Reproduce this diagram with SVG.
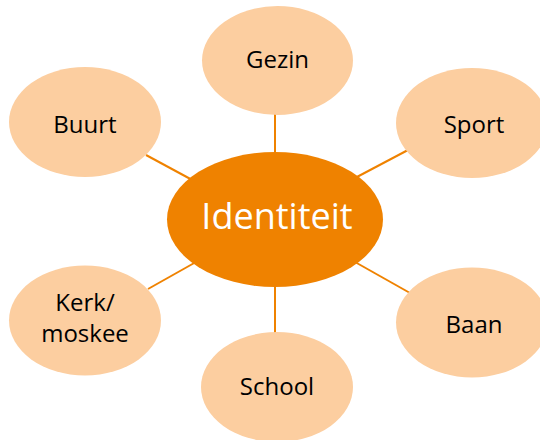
<svg xmlns="http://www.w3.org/2000/svg" width="540" height="440" viewBox="0 0 540 440">
<style>
.sat{fill:#fccea0}
.lbl{font-family:"Open Sans","Noto Sans",sans-serif;font-size:24px;fill:#000;text-anchor:middle}
.ctr{font-family:"Open Sans","Noto Sans",sans-serif;font-size:36px;fill:#fff;text-anchor:middle}
.con{stroke:#ef8200;stroke-width:2;fill:none}
</style>
<rect width="540" height="440" fill="#fff"/>
<g id="connectors">
<line class="con" x1="275" y1="112" x2="275" y2="155"/>
<line class="con" x1="146" y1="155" x2="196" y2="182"/>
<line class="con" x1="408" y1="150" x2="355" y2="178"/>
<line class="con" x1="148" y1="289" x2="196" y2="262"/>
<line class="con" x1="355" y1="262" x2="410" y2="293"/>
<line class="con" x1="275" y1="284" x2="275" y2="335"/>
</g>
<g id="gezin"><ellipse class="sat" cx="277.5" cy="60.5" rx="75.5" ry="54.5"/><text class="lbl" x="277.5" y="68">Gezin</text></g>
<g id="buurt"><ellipse class="sat" cx="85" cy="122" rx="76" ry="55"/><text class="lbl" x="85" y="133">Buurt</text></g>
<g id="sport"><ellipse class="sat" cx="472" cy="123" rx="76" ry="55"/><text class="lbl" x="474" y="133">Sport</text></g>
<g id="kerk"><ellipse class="sat" cx="85" cy="320.5" rx="76" ry="55"/><text class="lbl" x="85" y="311">Kerk/</text><text class="lbl" x="85" y="342">moskee</text></g>
<g id="baan"><ellipse class="sat" cx="472" cy="322.5" rx="76" ry="55"/><text class="lbl" x="474" y="333">Baan</text></g>
<g id="school"><ellipse class="sat" cx="277" cy="387" rx="76" ry="55"/><text class="lbl" x="277" y="395">School</text></g>
<g id="identiteit"><ellipse cx="275" cy="219.5" rx="108" ry="67.5" fill="#ef8200"/><text class="ctr" x="277" y="229">Identiteit</text></g>
</svg>
